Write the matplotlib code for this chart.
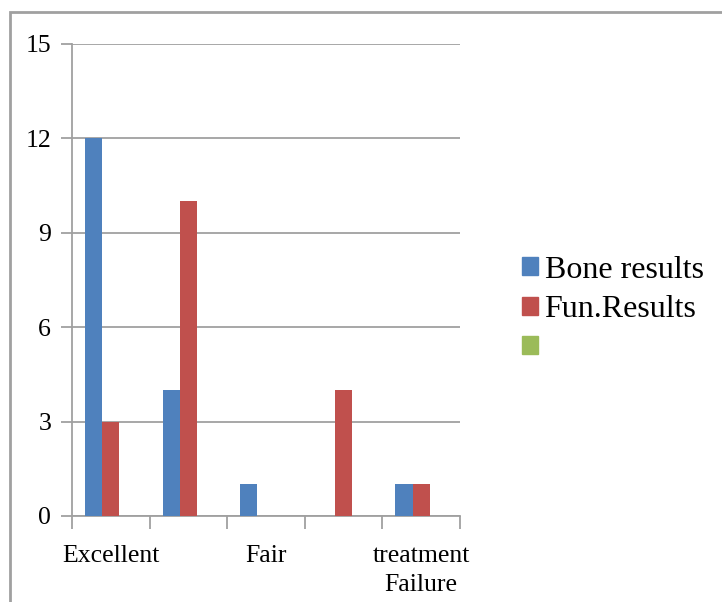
import numpy as np
import matplotlib.pyplot as plt
from matplotlib.patches import Rectangle, Patch

categories = ["Excellent", "Good", "Fair", "Poor", "treatment\nFailure"]
shown_labels = ["Excellent", "", "Fair", "", "treatment\nFailure"]
bone = [12, 4, 1, 0, 1]
fun = [3, 10, 0, 4, 1]
third = [0, 0, 0, 0, 0]
series_names = ["Bone results", "Fun.Results", " "]
colors = ["#4F81BD", "#C0504D", "#9BBB59"]
yticks = [0, 3, 6, 9, 12, 15]

plt.rcParams['font.family'] = ['Liberation Serif', 'DejaVu Serif']

fig = plt.figure(figsize=(7.22, 6.02), dpi=100)
ax = fig.add_axes([0.0997, 0.143, 0.5375, 0.784])

x = np.arange(len(categories))
w = 1 / 4.5
for i, (vals, c) in enumerate(zip([bone, fun, third], colors)):
    ax.bar(x + (i - 1) * w, vals, width=w, color=c, zorder=3)

ax.set_xlim(-0.5, len(categories) - 0.5)
ax.set_ylim(0, 15)
ax.set_yticks(yticks)
ax.set_yticklabels([str(v) for v in yticks], fontsize=18.5)
ax.yaxis.grid(True, color="#A0A0A0", linewidth=1.3, zorder=0)

# category labels centred, tick marks at category boundaries
ax.set_xticks(x)
ax.set_xticklabels(shown_labels, fontsize=18.5, linespacing=1.38)
ax.tick_params(axis='x', length=0, pad=21)
ax.set_xticks(np.arange(-0.5, len(categories)), minor=True)
ax.tick_params(axis='x', which='minor', length=9, width=1.3, color="#A0A0A0")
ax.tick_params(axis='y', length=8, width=1.3, color="#A0A0A0", pad=7)

for s in ["top", "right"]:
    ax.spines[s].set_visible(False)
for s in ["left", "bottom"]:
    ax.spines[s].set_color("#A0A0A0")
    ax.spines[s].set_linewidth(1.3)

handles = [Patch(color=c) for c in colors]
ax.legend(handles, series_names, loc="center left", bbox_to_anchor=(1.16, 0.437),
          frameon=False, borderaxespad=0, borderpad=0,
          fontsize=23, handlelength=0.5, handleheight=0.5,
          handletextpad=0.2, labelspacing=0.33)

fig.patches.append(Rectangle((10 / 722, -0.1), 1.2, 1 - 12 / 602 + 0.1,
                             transform=fig.transFigure, fill=False,
                             edgecolor="#A0A0A0", linewidth=2))

fig.savefig("out.png", dpi=100)
